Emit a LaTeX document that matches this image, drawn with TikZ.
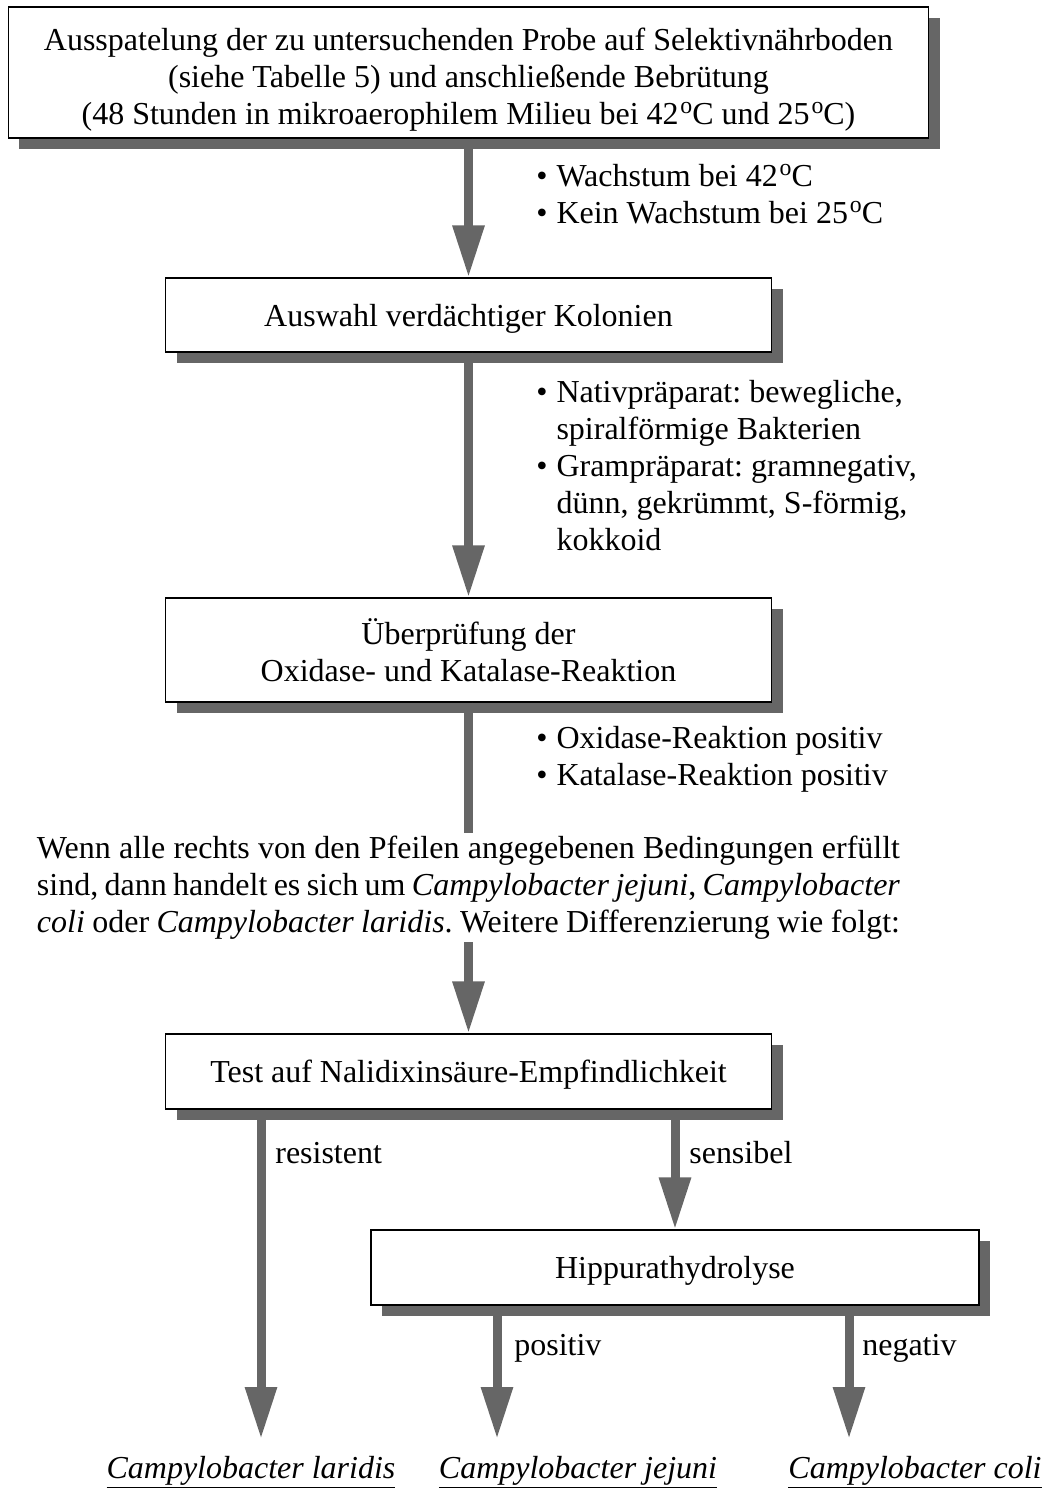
\documentclass[tikz,border=0pt]{standalone}
\usepackage{fontspec}
\setmainfont{Liberation Serif}
\usetikzlibrary{arrows.meta,shadows}
\definecolor{pfeilgrau}{RGB}{102,102,102}
\newcommand{\grossschrift}{\fontsize{18.2}{21.1}\selectfont\frenchspacing}
\newcommand{\grad}{\kern.06em\raisebox{.34em}{\fontsize{13.5}{13.5}\selectfont o}}

\begin{document}
\begin{tikzpicture}
\useasboundingbox (0,0) rectangle (21.04,-29.76);
\tikzset{every node/.append style = {font=\grossschrift}}
\tikzset{kasten/.style = {draw, line width=.6pt, fill=white, align=center, inner sep=0pt, text depth=0pt, drop shadow={shadow xshift=.22cm, shadow yshift=-.22cm, fill=pfeilgrau, opacity=1}}}
\tikzset{pfeil/.style = {draw=pfeilgrau, line width=.18cm, -{Triangle[length=1.04cm,width=.6cm]}}}
\tikzset{balken/.style = {draw=pfeilgrau, line width=.18cm}}
\tikzset{marke/.style = {inner sep=0pt, anchor=base west}}
%boxes with shadow
\node[kasten, minimum width=18.4cm, minimum height=2.62cm] (ausspatelung) at (9.37,-1.45) {\rule{0pt}{17pt}Ausspatelung der zu untersuchenden Probe auf Selektivnährboden\\(siehe Tabelle 5) und anschließende Bebrütung\\(48 Stunden in mikroaerophilem Milieu bei 42\grad C und 25\grad C)};
\node[kasten, minimum width=12.12cm, minimum height=1.48cm] (auswahl) at (9.37,-6.3) {Auswahl verdächtiger Kolonien};
\node[kasten, minimum width=12.12cm, minimum height=2.08cm] (pruefung) at (9.37,-13) {Überprüfung der\\Oxidase- und Katalase-Reaktion};
\node[kasten, minimum width=12.12cm, minimum height=1.5cm] (nalidixin) at (9.37,-21.43) {Test auf Nalidixinsäure-Empfindlichkeit};
\node[kasten, minimum width=12.16cm, minimum height=1.5cm] (hippurat) at (13.5,-25.35) {Hippurathydrolyse};
%conditions right of the arrows
\node[marke] (bed1) at (10.72,-3.72) {\begin{tabular}[t]{@{}l@{\hspace{.18cm}}l@{}}\textbullet & Wachstum bei 42\grad C\\ \textbullet & Kein Wachstum bei 25\grad C\end{tabular}};
\node[marke] (bed2) at (10.72,-8.04) {\begin{tabular}[t]{@{}l@{\hspace{.18cm}}l@{}}\textbullet & Nativpräparat: bewegliche,\\ & spiralförmige Bakterien\\ \textbullet & Grampräparat: gramnegativ,\\ & dünn, gekrümmt, S-förmig,\\ & kokkoid\end{tabular}};
\node[marke] (bed3) at (10.72,-14.96) {\begin{tabular}[t]{@{}l@{\hspace{.18cm}}l@{}}\textbullet & Oxidase-Reaktion positiv\\ \textbullet & Katalase-Reaktion positiv\end{tabular}};
%note in the middle
\node[align=justify, text width=17.26cm, inner sep=1.5pt] (hinweis) at (9.37,-17.75) {Wenn alle rechts von den Pfeilen angegebenen Bedingungen erfüllt\linebreak sind, dann handelt es sich um \textit{Campylobacter jejuni}, \textit{Campylobacter}\linebreak \textit{coli} oder \textit{Campylobacter laridis}. Weitere Differenzierung wie folgt:};
%results at the bottom
\node[inner sep=0pt, anchor=base] (laridis) at (5.02,-29.56) {\underline{\textit{Campylobacter laridis}}};
\node[inner sep=0pt, anchor=base] (jejuni) at (11.56,-29.56) {\underline{\textit{Campylobacter jejuni}}};
\node[inner sep=0pt, anchor=base] (coli) at (18.3,-29.56) {\underline{\textit{Campylobacter coli}}};
\coordinate (laridisEnd) at (5.22,-28.78);
\coordinate (jejuniEnd) at (9.94,-28.78);
\coordinate (coliEnd) at (16.98,-28.78);
%arrows
\draw[pfeil] (ausspatelung.south) -- (auswahl.north);
\draw[pfeil] (auswahl.south) -- (pruefung.north);
\draw[balken] (pruefung.south) -- (hinweis.north);
\draw[pfeil] (hinweis.south) -- (nalidixin.north);
\draw[pfeil] (nalidixin.south -| laridisEnd) -- (laridisEnd);
\draw[pfeil] (nalidixin.south -| hippurat.north) -- (hippurat.north);
\draw[pfeil] (hippurat.south -| jejuniEnd) -- (jejuniEnd);
\draw[pfeil] (hippurat.south -| coliEnd) -- (coliEnd);
%arrow labels
\node[marke] (resistent) at (5.5,-23.26) {resistent};
\node[marke] (sensibel) at (13.78,-23.26) {sensibel};
\node[marke] (positiv) at (10.28,-27.1) {positiv};
\node[marke] (negativ) at (17.24,-27.1) {negativ};
\end{tikzpicture}
\end{document}
